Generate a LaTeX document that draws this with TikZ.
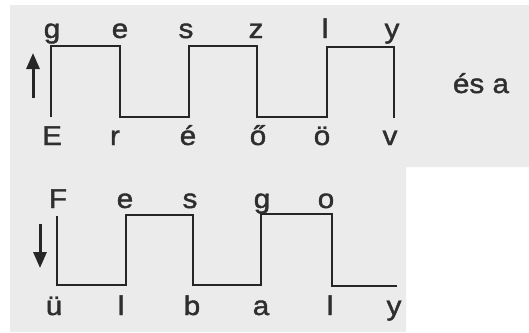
\documentclass[tikz,border=0pt]{standalone}
\usepackage{fontspec}
\setmainfont{Liberation Sans}
\newfontfamily\letfont[FakeBold=1.5,FakeStretch=1.1]{Liberation Sans}
\usetikzlibrary{arrows.meta}
\begin{document}
\begin{tikzpicture}[x=1pt,y=-1pt,
  wave/.style={line width=2.3pt, line join=miter, black!85},
  lett/.style={anchor=base, inner sep=0pt, font=\letfont\fontsize{27}{27}\selectfont, text=black!82},
  dirarrow/.style={line width=3pt, -{Triangle[length=16pt,width=13pt]}, black!85}]
\useasboundingbox (0,0) rectangle (529,332);
\fill[black!8] (10,5) -- (529,5) -- (529,167) -- (406,167) -- (406,332) -- (10,332) -- cycle;
% top wave
\draw[wave] (51,117) -- (51,46) -- (120,46) -- (120,117) -- (189,117) -- (189,46) -- (257,46) -- (257,117) -- (327,117) -- (327,47) -- (394,47) -- (394,118);
% bottom wave
\draw[wave] (57,216) -- (57,285) -- (126,285) -- (126,215) -- (193,215) -- (193,285) -- (261,285) -- (261,214) -- (332,214) -- (332,286) -- (397,286);
% arrows
\coordinate (ua0) at (33,98); \coordinate (ua1) at (33,53);
\draw[dirarrow] (ua0) -- (ua1);
\coordinate (da0) at (40,224); \coordinate (da1) at (40,268);
\draw[dirarrow] (da0) -- (da1);
% top wave letters
\node[lett] (t1) at (52,38) {g};
\node[lett] (t2) at (120,38) {e};
\node[lett] (t3) at (186,38) {s};
\node[lett] (t4) at (256,38) {z};
\node[lett] (t5) at (325,38) {l};
\node[lett] (t6) at (392,38) {y};
\node[lett] (b1) at (52,145) {E};
\node[lett] (b2) at (115,145) {r};
\node[lett] (b3) at (188,145) {é};
\node[lett] (b4) at (258,145) {ő};
\node[lett] (b5) at (322,145) {ö};
\node[lett] (b6) at (390,145) {v};
\node[lett] (esa) at (481,93) {és a};
% bottom wave letters
\node[lett] (u1) at (58,208) {F};
\node[lett] (u2) at (125,208) {e};
\node[lett] (u3) at (190,208) {s};
\node[lett] (u4) at (262,208) {g};
\node[lett] (u5) at (326,208) {o};
\node[lett] (l1) at (54,315) {ü};
\node[lett] (l2) at (121,315) {l};
\node[lett] (l3) at (192,315) {b};
\node[lett] (l4) at (261,315) {a};
\node[lett] (l5) at (330,315) {l};
\node[lett] (l6) at (394,315) {y};
\end{tikzpicture}
\end{document}
